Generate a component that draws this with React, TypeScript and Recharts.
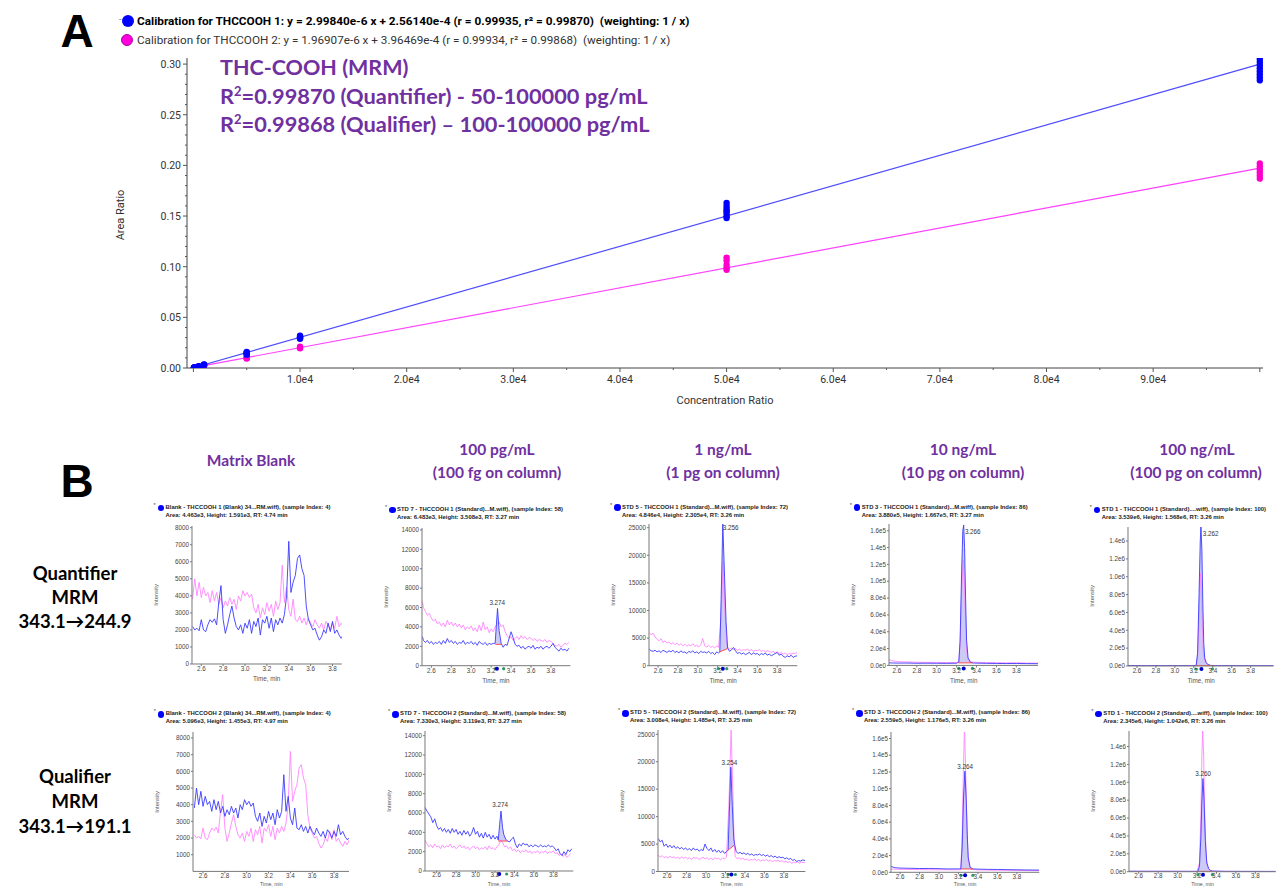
import React from "react";
import {
  ComposedChart,
  Line,
  Scatter,
  XAxis,
  YAxis,
  Area,
  ReferenceDot,
} from "recharts";

type Pt = [number, number];
type RangePt = [number, number, number];

// ---------- Panel A: calibration curves ----------
const quantLevels = [50, 100, 500, 1000, 5000, 10000, 50000, 100000];
const quantReplicates: number[][] = [
  [0.0003, 0.0004, 0.0002],
  [0.0005, 0.0004, 0.0006],
  [0.0016, 0.0017, 0.0015],
  [0.0033, 0.0036, 0.0029, 0.0031],
  [0.015, 0.0158, 0.0137, 0.0145, 0.0132],
  [0.0318, 0.031, 0.0295, 0.0302, 0.0288],
  [0.163, 0.16, 0.157, 0.153, 0.15, 0.155, 0.148],
  [0.305, 0.302, 0.299, 0.296, 0.293, 0.29, 0.287, 0.284],
];
const qualLevels = [100, 500, 1000, 5000, 10000, 50000, 100000];
const qualReplicates: number[][] = [
  [0.0004, 0.0006],
  [0.0012, 0.001],
  [0.0021, 0.0019],
  [0.0098, 0.0102, 0.0094],
  [0.021, 0.02, 0.0195],
  [0.109, 0.106, 0.102, 0.099, 0.097],
  [0.202, 0.199, 0.196, 0.193, 0.19, 0.187],
];
// regression lines (end points of y = a x + b)
const quantFit: Pt[] = [[0, 0.000256], [100000, 0.2999]];
const qualFit: Pt[] = [[0, 0.000396], [100000, 0.19731]];

const calXTicks = [
  0, 5000, 10000, 15000, 20000, 25000, 30000, 35000, 40000, 45000, 50000,
  55000, 60000, 65000, 70000, 75000, 80000, 85000, 90000, 95000, 100000,
];
const calYTicks = [
  0, 0.01, 0.02, 0.03, 0.04, 0.05, 0.06, 0.07, 0.08, 0.09, 0.1, 0.11, 0.12,
  0.13, 0.14, 0.15, 0.16, 0.17, 0.18, 0.19, 0.2, 0.21, 0.22, 0.23, 0.24, 0.25,
  0.26, 0.27, 0.28, 0.29, 0.3,
];

// ---------- Panel B: chromatograms (time in min, intensity in cps) ----------
const timeTicks = [2.6, 2.8, 3.0, 3.2, 3.4, 3.6, 3.8];
const blankTicks = [0, 1000, 2000, 3000, 4000, 5000, 6000, 7000, 8000];
const blankTicks2 = [1000, 2000, 3000, 4000, 5000, 6000, 7000, 8000];
const std7Ticks = [0, 2000, 4000, 6000, 8000, 10000, 12000, 14000];
const std5Ticks = [0, 5000, 10000, 15000, 20000, 25000];
const std3Ticks = [0, 20000, 40000, 60000, 80000, 100000, 120000, 140000, 160000];
const std1Ticks = [0, 200000, 400000, 600000, 800000, 1000000, 1200000, 1400000];

// matrix blank, quantifier trace (343.1 -> 244.9)
const blankQuant: Pt[] = [
  [2.52, 2200], [2.54, 2000], [2.56, 2100], [2.58, 1950], [2.6, 2600], [2.62, 2000],
  [2.64, 1900], [2.66, 2300], [2.68, 2600], [2.7, 2450], [2.72, 2650], [2.74, 2300],
  [2.76, 3600], [2.78, 4600], [2.8, 2600], [2.82, 1800], [2.84, 2300], [2.86, 2900],
  [2.88, 3400], [2.9, 2700], [2.92, 2200], [2.94, 2000], [2.96, 2300], [2.98, 1800],
  [3.0, 2400], [3.02, 2100], [3.04, 2600], [3.06, 1800], [3.08, 2500], [3.1, 2200],
  [3.12, 2700], [3.14, 1700], [3.16, 2600], [3.18, 2400], [3.2, 2800], [3.22, 2100],
  [3.24, 2700], [3.26, 1900], [3.28, 2600], [3.3, 2300], [3.32, 2700], [3.34, 2400],
  [3.36, 2900], [3.38, 4000], [3.4, 7200], [3.42, 4200], [3.44, 4800], [3.46, 5200],
  [3.48, 6200], [3.5, 6400], [3.52, 5600], [3.54, 5200], [3.56, 3400], [3.58, 2600],
  [3.6, 2300], [3.62, 2000], [3.64, 2100], [3.66, 1700], [3.68, 1400], [3.7, 1600],
  [3.72, 2000], [3.74, 1800], [3.76, 2400], [3.78, 1900], [3.8, 2500], [3.82, 1800],
  [3.84, 2000], [3.86, 1700], [3.88, 1500], [3.9, 1800], [3.92, 1600], [3.94, 1900],
];
// matrix blank, qualifier trace (343.1 -> 191.1)
const blankQual: Pt[] = [
  [2.52, 3800], [2.54, 5000], [2.56, 4000], [2.58, 4800], [2.6, 3900], [2.62, 4500],
  [2.64, 4000], [2.66, 4200], [2.68, 3600], [2.7, 4300], [2.72, 3700], [2.74, 4200],
  [2.76, 3500], [2.78, 3900], [2.8, 3300], [2.82, 3700], [2.84, 3400], [2.86, 3900],
  [2.88, 3500], [2.9, 3800], [2.92, 3200], [2.94, 4000], [2.96, 3700], [2.98, 4300],
  [3.0, 4000], [3.02, 4200], [3.04, 3900], [3.06, 4100], [3.08, 3300], [3.1, 3000],
  [3.12, 3500], [3.14, 2700], [3.16, 3300], [3.18, 2900], [3.2, 3600], [3.22, 3100],
  [3.24, 3500], [3.26, 2800], [3.28, 3700], [3.3, 3200], [3.32, 3600], [3.34, 5800],
  [3.36, 3600], [3.38, 4500], [3.4, 3200], [3.42, 2800], [3.44, 3800], [3.46, 2600],
  [3.48, 2500], [3.5, 2800], [3.52, 2400], [3.54, 2700], [3.56, 2300], [3.58, 2700],
  [3.6, 2400], [3.62, 2200], [3.64, 2600], [3.66, 2300], [3.68, 2100], [3.7, 2400],
  [3.72, 2000], [3.74, 2500], [3.76, 2300], [3.78, 2000], [3.8, 2400], [3.82, 2100],
  [3.84, 2800], [3.86, 2200], [3.88, 2400], [3.9, 2100], [3.92, 1900], [3.94, 2000],
];

// STD 7 (100 pg/mL)
const std7Quant: Pt[] = [
  [2.51, 3000], [2.52, 2600], [2.54, 2400], [2.56, 2600], [2.58, 2300], [2.6, 2500],
  [2.62, 2200], [2.64, 2400], [2.66, 2300], [2.68, 2500], [2.7, 2200], [2.72, 2600],
  [2.74, 2300], [2.76, 2800], [2.78, 2400], [2.8, 2600], [2.82, 2300], [2.84, 2500],
  [2.86, 2200], [2.88, 2400], [2.9, 2300], [2.92, 2600], [2.94, 2200], [2.96, 2400],
  [2.98, 2300], [3.0, 2500], [3.02, 2200], [3.04, 2400], [3.06, 2100], [3.08, 2500],
  [3.1, 2300], [3.12, 2200], [3.14, 2400], [3.16, 2100], [3.18, 2300], [3.2, 2200],
  [3.22, 2300], [3.24, 2300], [3.252, 4200], [3.264, 5900], [3.28, 3600], [3.29, 3000],
  [3.3, 2300], [3.32, 1900], [3.34, 2200], [3.36, 2100], [3.38, 2800], [3.4, 3500],
  [3.42, 2900], [3.44, 2200], [3.46, 2000], [3.48, 2100], [3.5, 1800], [3.52, 2000],
  [3.54, 1700], [3.56, 1900], [3.58, 2000], [3.6, 1800], [3.62, 2100], [3.64, 1700],
  [3.66, 1900], [3.68, 1800], [3.7, 2000], [3.72, 1700], [3.74, 1900], [3.76, 2000],
  [3.78, 1800], [3.8, 2000], [3.82, 2300], [3.84, 1900], [3.86, 1700], [3.88, 1500],
  [3.9, 1800], [3.92, 1600], [3.94, 1700], [3.96, 1500], [3.98, 1800],
];
const std7QualOverlay: Pt[] = [
  [2.51, 6600], [2.52, 6000], [2.54, 5600], [2.56, 5200], [2.58, 5400], [2.6, 4900],
  [2.62, 4600], [2.64, 4800], [2.66, 4300], [2.68, 4500], [2.7, 4100], [2.72, 4400],
  [2.74, 4000], [2.76, 4700], [2.78, 4200], [2.8, 4500], [2.82, 4100], [2.84, 4400],
  [2.86, 4000], [2.88, 4300], [2.9, 3900], [2.92, 4200], [2.94, 3700], [2.96, 4000],
  [2.98, 3800], [3.0, 4100], [3.02, 3600], [3.04, 3900], [3.06, 3500], [3.08, 4200],
  [3.1, 3600], [3.12, 4500], [3.14, 3700], [3.16, 4000], [3.18, 3400], [3.2, 3800],
  [3.22, 3500], [3.24, 4000], [3.26, 4300], [3.28, 4500], [3.3, 4000], [3.32, 4200],
  [3.34, 3500], [3.36, 3100], [3.38, 2800], [3.4, 3000], [3.42, 2600], [3.44, 2800],
  [3.46, 3000], [3.48, 2700], [3.5, 3100], [3.52, 2800], [3.54, 3000], [3.56, 2700],
  [3.58, 2900], [3.6, 2800], [3.62, 2600], [3.64, 2800], [3.66, 2500], [3.68, 2700],
  [3.7, 2600], [3.72, 2500], [3.74, 2700], [3.76, 2400], [3.78, 2600], [3.8, 2500],
  [3.82, 2300], [3.84, 2100], [3.86, 2000], [3.88, 2200], [3.9, 1900], [3.92, 2100],
  [3.94, 2300], [3.96, 2200], [3.98, 2400],
];
const std7QuantFill: RangePt[] = [
  [3.242, 2200, 2300], [3.252, 2200, 4200], [3.264, 2200, 5900], [3.28, 2200, 3600],
  [3.29, 2200, 3000], [3.3, 2200, 2300], [3.31, 2200, 2200],
];
const std7QuantBase: Pt[] = [[3.242, 2200], [3.31, 2200]];

const std7Qual: Pt[] = [
  [2.48, 6600], [2.5, 6200], [2.52, 5900], [2.54, 5600], [2.56, 5000], [2.58, 5400],
  [2.6, 4700], [2.62, 4300], [2.64, 4500], [2.66, 4100], [2.68, 4400], [2.7, 4000],
  [2.72, 4300], [2.74, 3900], [2.76, 4400], [2.78, 4000], [2.8, 4300], [2.82, 3800],
  [2.84, 4100], [2.86, 3700], [2.88, 4200], [2.9, 3800], [2.92, 4100], [2.94, 3600],
  [2.96, 3900], [2.98, 4500], [3.0, 3800], [3.02, 4100], [3.04, 3500], [3.06, 3900],
  [3.08, 3400], [3.1, 4000], [3.12, 3500], [3.14, 3800], [3.16, 3300], [3.18, 3700],
  [3.2, 3300], [3.22, 3600], [3.234, 3200], [3.248, 4800], [3.262, 6200], [3.278, 4500],
  [3.29, 3800], [3.31, 3300], [3.33, 3100], [3.35, 3000], [3.37, 3300], [3.39, 3500],
  [3.41, 2800], [3.43, 2400], [3.45, 2800], [3.47, 2600], [3.49, 2900], [3.51, 2700],
  [3.53, 2800], [3.55, 2500], [3.57, 2700], [3.59, 2500], [3.61, 2700], [3.63, 2600],
  [3.65, 2500], [3.67, 2700], [3.69, 2500], [3.71, 2600], [3.73, 2500], [3.75, 2700],
  [3.77, 2500], [3.79, 2600], [3.81, 2400], [3.83, 2100], [3.85, 2300], [3.87, 1800],
  [3.89, 1600], [3.91, 2000], [3.93, 1700], [3.95, 2200], [3.97, 2000], [3.99, 2300],
];
const std7QuantOverlay: Pt[] = [
  [2.48, 3200], [2.5, 2800], [2.52, 2500], [2.54, 2700], [2.56, 2400], [2.58, 2800],
  [2.6, 2500], [2.62, 2600], [2.64, 2300], [2.66, 2700], [2.68, 2400], [2.7, 2600],
  [2.72, 2500], [2.74, 2800], [2.76, 2400], [2.78, 2600], [2.8, 2300], [2.82, 2500],
  [2.84, 2700], [2.86, 2400], [2.88, 2600], [2.9, 2300], [2.92, 2500], [2.94, 2200],
  [2.96, 2400], [2.98, 2600], [3.0, 2300], [3.02, 2500], [3.04, 2200], [3.06, 2400],
  [3.08, 2300], [3.1, 2500], [3.12, 2200], [3.14, 2600], [3.16, 2300], [3.18, 2400],
  [3.2, 2200], [3.22, 2500], [3.24, 2700], [3.26, 3200], [3.28, 2900], [3.3, 2500],
  [3.32, 2600], [3.34, 2300], [3.36, 2500], [3.38, 2100], [3.4, 2300], [3.42, 2000],
  [3.44, 2200], [3.46, 1900], [3.48, 2100], [3.5, 2000], [3.52, 2200], [3.54, 1900],
  [3.56, 2100], [3.58, 1800], [3.6, 2000], [3.62, 1900], [3.64, 2100], [3.66, 1800],
  [3.68, 2000], [3.7, 1900], [3.72, 2100], [3.74, 1800], [3.76, 2000], [3.78, 1900],
  [3.8, 2100], [3.82, 1800], [3.84, 1900], [3.86, 1600], [3.88, 1800], [3.9, 1500],
  [3.92, 1700], [3.94, 1400], [3.96, 1600], [3.98, 1800],
];
const std7QualFill: RangePt[] = [
  [3.234, 3100, 3200], [3.248, 3100, 4800], [3.262, 3100, 6200], [3.278, 3100, 4500],
  [3.29, 3100, 3800], [3.31, 3100, 3300], [3.33, 3100, 3100],
];
const std7QualBase: Pt[] = [[3.234, 3100], [3.33, 3100]];

// STD 5 (1 ng/mL)
const std5Quant: Pt[] = [
  [2.51, 3000], [2.53, 2700], [2.55, 2600], [2.57, 2800], [2.59, 2500], [2.61, 2700],
  [2.63, 2400], [2.65, 2800], [2.67, 2600], [2.69, 2400], [2.71, 2700], [2.73, 2500],
  [2.75, 2800], [2.77, 2400], [2.79, 2600], [2.81, 2300], [2.83, 2700], [2.85, 2400],
  [2.87, 2500], [2.89, 2200], [2.91, 2600], [2.93, 2400], [2.95, 2700], [2.97, 2300],
  [2.99, 2500], [3.01, 2200], [3.03, 2600], [3.05, 2400], [3.07, 2500], [3.09, 2300],
  [3.11, 2600], [3.13, 2200], [3.15, 2400], [3.17, 2000], [3.19, 2500], [3.21, 2300],
  [3.222, 2500], [3.235, 12000], [3.252, 25650], [3.27, 16000], [3.285, 8000],
  [3.3, 3200], [3.32, 2600], [3.34, 2900], [3.36, 3300], [3.38, 2700], [3.4, 2200],
  [3.42, 2400], [3.44, 2100], [3.46, 2300], [3.48, 2000], [3.5, 2200], [3.52, 2400],
  [3.54, 2000], [3.56, 2300], [3.58, 2100], [3.6, 2200], [3.62, 1900], [3.64, 2200],
  [3.66, 2000], [3.68, 2300], [3.7, 1900], [3.72, 2100], [3.74, 1800], [3.76, 2000],
  [3.78, 2200], [3.8, 2400], [3.82, 1900], [3.84, 2100], [3.86, 1700], [3.88, 1500],
  [3.9, 1800], [3.92, 1600], [3.94, 1900], [3.96, 1500], [3.98, 1700], [4.0, 1800],
];
const std5QualOverlay: Pt[] = [
  [2.51, 6000], [2.53, 5600], [2.55, 5900], [2.57, 5200], [2.59, 4800], [2.61, 4500],
  [2.63, 4900], [2.65, 4200], [2.67, 4500], [2.69, 4100], [2.71, 4300], [2.73, 3900],
  [2.75, 4200], [2.77, 3800], [2.79, 4100], [2.81, 3700], [2.83, 4000], [2.85, 3600],
  [2.87, 3900], [2.89, 3500], [2.91, 3800], [2.93, 3600], [2.95, 4000], [2.97, 3500],
  [2.99, 3700], [3.01, 3400], [3.03, 3800], [3.05, 4900], [3.07, 3600], [3.09, 3400],
  [3.11, 3700], [3.13, 3300], [3.15, 3500], [3.17, 3200], [3.19, 3600], [3.21, 3300],
  [3.235, 9000], [3.256, 18800], [3.27, 11000], [3.29, 4500], [3.3, 3400], [3.32, 3000],
  [3.34, 3200], [3.36, 2900], [3.38, 3100], [3.4, 2800], [3.42, 3000], [3.44, 2700],
  [3.46, 2900], [3.48, 2800], [3.5, 3000], [3.52, 2700], [3.54, 2900], [3.56, 2600],
  [3.58, 2800], [3.6, 2700], [3.62, 2900], [3.64, 2600], [3.66, 2800], [3.68, 2500],
  [3.7, 2700], [3.72, 2600], [3.74, 2400], [3.76, 2600], [3.78, 2300], [3.8, 2500],
  [3.82, 2200], [3.84, 2400], [3.86, 2100], [3.88, 2300], [3.9, 2000], [3.92, 2200],
  [3.94, 2100], [3.96, 2300], [3.98, 2200], [4.0, 2400],
];
const std5QuantFill: RangePt[] = [
  [3.222, 2500, 2500], [3.235, 2600, 12000], [3.252, 2700, 25650], [3.27, 2800, 16000],
  [3.285, 3000, 8000], [3.3, 3100, 3200],
];
const std5QuantBase: Pt[] = [[3.222, 2500], [3.3, 3100]];

const std5Qual: Pt[] = [
  [2.51, 6000], [2.53, 5400], [2.55, 5700], [2.57, 4600], [2.59, 5000], [2.61, 4400],
  [2.63, 4800], [2.65, 4300], [2.67, 4700], [2.69, 4200], [2.71, 4500], [2.73, 4100],
  [2.75, 4400], [2.77, 4000], [2.79, 4300], [2.81, 3900], [2.83, 4200], [2.85, 3800],
  [2.87, 4300], [2.89, 3900], [2.91, 4100], [2.93, 3700], [2.95, 4000], [2.97, 3800],
  [2.99, 5000], [3.01, 4200], [3.03, 3800], [3.05, 4300], [3.07, 3600], [3.09, 4000],
  [3.11, 3500], [3.13, 3900], [3.15, 3400], [3.17, 3800], [3.19, 3300], [3.21, 3600],
  [3.227, 3900], [3.24, 11000], [3.255, 19000], [3.27, 12000], [3.285, 6000],
  [3.295, 4900], [3.31, 3600], [3.33, 3300], [3.35, 3500], [3.37, 3200], [3.39, 3400],
  [3.41, 3100], [3.43, 3300], [3.45, 3000], [3.47, 3200], [3.49, 2900], [3.51, 3100],
  [3.53, 3000], [3.55, 3200], [3.57, 2900], [3.59, 3100], [3.61, 2800], [3.63, 3000],
  [3.65, 2700], [3.67, 2900], [3.69, 2600], [3.71, 2800], [3.73, 2500], [3.75, 2700],
  [3.77, 2500], [3.79, 2600], [3.81, 2300], [3.83, 2500], [3.85, 2200], [3.87, 2400],
  [3.89, 2000], [3.91, 2200], [3.93, 1800], [3.95, 2000], [3.97, 1900], [3.99, 2100],
  [4.02, 2000],
];
const std5QuantOverlay: Pt[] = [
  [2.51, 3000], [2.53, 2600], [2.55, 2900], [2.57, 2500], [2.59, 2700], [2.61, 2400],
  [2.63, 2800], [2.65, 2500], [2.67, 2700], [2.69, 2400], [2.71, 2600], [2.73, 2300],
  [2.75, 2700], [2.77, 2400], [2.79, 2600], [2.81, 2300], [2.83, 2500], [2.85, 2200],
  [2.87, 2600], [2.89, 2400], [2.91, 2500], [2.93, 2200], [2.95, 2400], [2.97, 2600],
  [2.99, 2300], [3.01, 2500], [3.03, 2200], [3.05, 2400], [3.07, 2100], [3.09, 2500],
  [3.11, 2300], [3.13, 2400], [3.15, 2100], [3.17, 2500], [3.19, 2300], [3.21, 2600],
  [3.235, 12000], [3.258, 25900], [3.275, 15000], [3.29, 5000], [3.3, 2800],
  [3.32, 2300], [3.34, 2500], [3.36, 2200], [3.38, 2400], [3.4, 2100], [3.42, 2300],
  [3.44, 2000], [3.46, 2200], [3.48, 2100], [3.5, 2300], [3.52, 2000], [3.54, 2200],
  [3.56, 1900], [3.58, 2100], [3.6, 2000], [3.62, 2200], [3.64, 1900], [3.66, 2100],
  [3.68, 1800], [3.7, 2000], [3.72, 1900], [3.74, 2100], [3.76, 1800], [3.78, 2000],
  [3.8, 1700], [3.82, 1900], [3.84, 1600], [3.86, 1800], [3.88, 1500], [3.9, 1700],
  [3.92, 1600], [3.94, 1800], [3.96, 1500], [3.98, 1700], [4.02, 1600],
];
const std5QualFill: RangePt[] = [
  [3.227, 3900, 3900], [3.24, 4100, 11000], [3.255, 4300, 19000], [3.27, 4500, 12000],
  [3.285, 4700, 6000], [3.292, 4830, 5000],
];
const std5QualBase: Pt[] = [[3.227, 3900], [3.292, 4830]];

// STD 3 (10 ng/mL)
const std3Quant: Pt[] = [
  [2.52, 3000], [2.6, 2700], [2.7, 2800], [2.8, 2500], [2.9, 2600], [3.0, 2500],
  [3.1, 2400], [3.2, 2600], [3.222, 4000], [3.235, 30000], [3.25, 110000],
  [3.262, 160000], [3.271, 166700], [3.28, 140000], [3.29, 80000], [3.3, 30000],
  [3.315, 9000], [3.34, 3500], [3.37, 2800], [3.5, 2400], [3.6, 2300], [3.7, 2200],
  [3.8, 2300], [3.9, 2100], [4.02, 2000],
];
const std3QualOverlay: Pt[] = [
  [2.52, 7000], [2.55, 5500], [2.6, 4500], [2.7, 4000], [2.8, 3700], [2.9, 3500],
  [3.0, 3600], [3.1, 3300], [3.2, 3400], [3.222, 4000], [3.235, 25000], [3.25, 85000],
  [3.266, 125000], [3.278, 100000], [3.29, 50000], [3.3, 18000], [3.315, 6000],
  [3.34, 4000], [3.4, 3600], [3.5, 3400], [3.6, 3200], [3.7, 3000], [3.8, 3100],
  [3.9, 2800], [4.02, 2700],
];
const std3QuantFill: RangePt[] = [
  [3.218, 3000, 3000], [3.222, 3000, 4000], [3.235, 3000, 30000], [3.25, 3000, 110000],
  [3.262, 3000, 160000], [3.271, 3000, 166700], [3.28, 3000, 140000], [3.29, 3000, 80000],
  [3.3, 3000, 30000], [3.315, 3000, 9000], [3.34, 3000, 3500], [3.36, 3000, 3000],
];
const std3QuantBase: Pt[] = [[3.218, 3000], [3.36, 3000]];

const std3Qual: Pt[] = [
  [2.507, 7000], [2.55, 5500], [2.6, 5000], [2.7, 4800], [2.8, 4500], [2.9, 4600],
  [3.0, 4300], [3.1, 4000], [3.2, 4100], [3.224, 4000], [3.238, 30000], [3.252, 90000],
  [3.266, 121000], [3.28, 85000], [3.29, 45000], [3.3, 18000], [3.32, 6000],
  [3.348, 4000], [3.4, 3800], [3.5, 3500], [3.6, 3400], [3.7, 3200], [3.8, 3000],
  [3.9, 2800], [4.03, 2600],
];
const std3QuantOverlay: Pt[] = [
  [2.507, 4000], [2.6, 3500], [2.8, 3200], [3.0, 3000], [3.2, 3000], [3.224, 3200],
  [3.238, 45000], [3.25, 120000], [3.262, 175000], [3.275, 115000], [3.288, 50000],
  [3.3, 14000], [3.32, 4000], [3.4, 2800], [3.6, 2500], [3.8, 2200], [4.03, 2000],
];
const std3QualFill: RangePt[] = [
  [3.224, 4000, 4000], [3.238, 4000, 30000], [3.252, 4000, 90000], [3.266, 4000, 121000],
  [3.28, 4000, 85000], [3.29, 4000, 45000], [3.3, 4000, 18000], [3.32, 4000, 6000],
  [3.348, 4000, 4000],
];
const std3QualBase: Pt[] = [[3.224, 4000], [3.348, 4000]];

// STD 1 (100 ng/mL)
const std1Quant: Pt[] = [
  [2.505, 4000], [2.7, 3500], [3.0, 3500], [3.2, 3500], [3.225, 8000], [3.24, 150000],
  [3.255, 800000], [3.268, 1400000], [3.275, 1568000], [3.285, 1300000],
  [3.295, 700000], [3.305, 250000], [3.315, 90000], [3.33, 40000], [3.35, 15000],
  [3.38, 6000], [3.45, 4000], [3.7, 3500], [4.04, 3000],
];
const std1QualOverlay: Pt[] = [
  [2.505, 6000], [2.8, 4000], [3.2, 3500], [3.225, 6000], [3.24, 100000],
  [3.255, 550000], [3.27, 1040000], [3.28, 850000], [3.29, 450000], [3.3, 150000],
  [3.315, 60000], [3.34, 20000], [3.38, 5000], [3.5, 3000], [4.04, 2500],
];
const std1QuantFill: RangePt[] = [
  [3.22, 4000, 4000], [3.225, 4000, 8000], [3.24, 4000, 150000], [3.255, 4000, 800000],
  [3.268, 4000, 1400000], [3.275, 4000, 1568000], [3.285, 4000, 1300000],
  [3.295, 4000, 700000], [3.305, 4000, 250000], [3.315, 4000, 90000],
  [3.33, 4000, 40000], [3.35, 4000, 15000], [3.38, 4000, 6000], [3.4, 4000, 4000],
];
const std1QuantBase: Pt[] = [[3.22, 4000], [3.4, 4000]];

const std1Qual: Pt[] = [
  [2.5, 5000], [3.0, 4000], [3.2, 4000], [3.21, 5000], [3.225, 60000], [3.24, 400000],
  [3.25, 800000], [3.261, 1042000], [3.272, 800000], [3.285, 350000], [3.3, 100000],
  [3.32, 35000], [3.34, 12000], [3.358, 6000], [3.5, 4000], [4.01, 3000],
];
const std1QuantOverlay: Pt[] = [
  [2.5, 4000], [3.2, 3500], [3.225, 100000], [3.24, 650000], [3.25, 1300000],
  [3.258, 1600000], [3.268, 1300000], [3.28, 600000], [3.295, 150000], [3.31, 40000],
  [3.34, 8000], [3.5, 3000], [4.01, 2500],
];
const std1QualFill: RangePt[] = [
  [3.21, 4000, 5000], [3.225, 4000, 60000], [3.24, 4000, 400000], [3.25, 4000, 800000],
  [3.261, 4000, 1042000], [3.272, 4000, 800000], [3.285, 4000, 350000],
  [3.3, 4000, 100000], [3.32, 4000, 35000], [3.34, 4000, 12000], [3.358, 4000, 6000],
];
const std1QualBase: Pt[] = [[3.21, 4000], [3.358, 4000]];

const BLUE = "#3b3bff";
const PINK = "#ff86ff";
const PURPLE = "#7030a0";

const toXY = (arr: Pt[]) => arr.map(([x, y]) => ({ x, y }));
const toTV = (arr: Pt[]) => arr.map(([t, v]) => ({ t, v }));
const toRange = (arr: RangePt[]) => arr.map(([t, lo, hi]) => ({ t, r: [lo, hi] }));

const sci = (v: number) => {
  if (v === 0) return "0.0e0";
  const e = Math.floor(Math.log10(v) + 1e-9);
  return `${(v / Math.pow(10, e)).toFixed(1)}e${e}`;
};

function T({
  x,
  y,
  children,
  size = 12,
  weight = 400,
  color = "#000",
  anchor = "start",
  rotate = 0,
  family,
}: any) {
  const tx = anchor === "middle" ? "-50%" : anchor === "end" ? "-100%" : "0";
  return (
    <div
      style={{
        position: "absolute",
        left: x,
        top: y,
        transform: `translate(${tx}, -50%) rotate(${rotate}deg)`,
        fontSize: size,
        fontWeight: weight,
        color,
        whiteSpace: "nowrap",
        lineHeight: 1,
        fontFamily: family,
      }}
    >
      {children}
    </div>
  );
}

function CalXTick({ x, y, payload }: any) {
  const v = payload.value;
  const major = v % 10000 === 0;
  return (
    <g>
      <line x1={x} x2={x} y1={y} y2={y + (major ? 4 : 2)} stroke="#555" />
      {major && v > 0 && v < 100000 && (
        <text x={x} y={y + 15} textAnchor="middle" fontSize={10.5} fill="#333" fontFamily="Roboto">
          {(v / 10000).toFixed(1)}e4
        </text>
      )}
    </g>
  );
}

function CalYTick({ x, y, payload }: any) {
  const v = payload.value;
  const major = Math.round(v * 100) % 5 === 0;
  return (
    <g>
      <line x1={x - (major ? 4 : 2)} x2={x} y1={y} y2={y} stroke="#555" />
      {major && (
        <text x={x - 6} y={y + 4} textAnchor="end" fontSize={10.5} fill="#333" fontFamily="Roboto">
          {v.toFixed(2)}
        </text>
      )}
    </g>
  );
}

const dot = (fill: string) => (p: any) => <circle cx={p.cx} cy={p.cy} r={3.2} fill={fill} />;

function CalibrationPanel() {
  const quantPts = quantLevels.flatMap((x, i) => quantReplicates[i].map((y) => ({ x, y })));
  const qualPts = qualLevels.flatMap((x, i) => qualReplicates[i].map((y) => ({ x, y })));
  return (
    <div style={{ position: "absolute", left: 0, top: 0 }}>
      <ComposedChart width={1276} height={420} margin={{ top: 58, right: 13, bottom: 0, left: 0 }}>
        <XAxis
          type="number"
          dataKey="x"
          domain={[-600, 100300]}
          ticks={calXTicks}
          interval={0}
          tick={<CalXTick />}
          tickLine={false}
          tickSize={0}
          tickMargin={0}
          height={52}
          stroke="#444"
          allowDataOverflow
        />
        <YAxis
          type="number"
          dataKey="y"
          domain={[0, 0.306]}
          ticks={calYTicks}
          interval={0}
          tick={<CalYTick />}
          tickLine={false}
          tickSize={0}
          tickMargin={0}
          width={187}
          stroke="#444"
          allowDataOverflow
        />
        <Line data={toXY(qualFit)} dataKey="y" stroke="#ff40ff" strokeWidth={1.2} dot={false} isAnimationActive={false} />
        <Line data={toXY(quantFit)} dataKey="y" stroke="#4d4dff" strokeWidth={1.2} dot={false} isAnimationActive={false} />
        <Scatter data={qualPts} dataKey="y" fill="#ff00cc" shape={dot("#ff00cc")} isAnimationActive={false} />
        <Scatter data={quantPts} dataKey="y" fill="#0000ff" shape={dot("#0000ff")} isAnimationActive={false} />
      </ComposedChart>
    </div>
  );
}

interface ChromProps {
  left: number;
  top: number;
  right: number;
  bottom: number;
  xDomain: [number, number];
  yMax: number;
  yTicks: number[];
  sciTicks?: boolean;
  blue: Pt[];
  pink: Pt[];
  fill?: RangePt[];
  base?: Pt[];
  peakLabel?: string;
  labelAt?: Pt;
  marks?: number[];
  title: string;
  info: string;
  titleX: number;
  titleY: number;
  lowRow?: boolean;
}

function Chromatogram(p: ChromProps) {
  const YW = 34;
  const XH = 22;
  const w = p.right - p.left;
  const h = p.bottom - p.top;
  const markY = -(p.yMax * 3) / h;
  const fontFam = "Liberation Sans";
  return (
    <>
      <div style={{ position: "absolute", left: p.left - YW, top: p.top - 4 }}>
        <ComposedChart width={w + YW + 4} height={h + XH + 4} margin={{ top: 4, right: 4, bottom: 0, left: 0 }}>
          <XAxis
            type="number"
            dataKey="t"
            domain={p.xDomain}
            ticks={timeTicks}
            interval={0}
            tickFormatter={(v: number) => v.toFixed(1)}
            tick={{ fontSize: 6.3, fill: "#444", fontFamily: fontFam }}
            tickSize={2}
            tickMargin={p.lowRow ? 0 : 1}
            height={XH}
            stroke="#777"
            allowDataOverflow
          />
          <YAxis
            type="number"
            domain={[0, p.yMax]}
            ticks={p.yTicks}
            interval={0}
            tickFormatter={(v: number) => (p.sciTicks ? sci(v) : String(v))}
            tick={{ fontSize: 6.3, fill: "#444", fontFamily: fontFam }}
            tickSize={2}
            tickMargin={1}
            width={YW}
            stroke="#777"
            allowDataOverflow
          />
          {p.fill && (
            <Area
              data={toRange(p.fill)}
              dataKey="r"
              type="linear"
              stroke="none"
              fill="#b9b9f3"
              fillOpacity={0.75}
              isAnimationActive={false}
            />
          )}
          <Line data={toTV(p.pink)} dataKey="v" type="linear" stroke={PINK} strokeWidth={0.9} dot={false} isAnimationActive={false} />
          <Line data={toTV(p.blue)} dataKey="v" type="linear" stroke={BLUE} strokeWidth={0.9} dot={false} isAnimationActive={false} />
          {p.base && (
            <Line data={toTV(p.base)} dataKey="v" type="linear" stroke="#ff3b3b" strokeWidth={0.9} dot={false} isAnimationActive={false} />
          )}
          {p.marks &&
            p.marks.map((m, i) => (
              <ReferenceDot
                key={i}
                x={m}
                y={markY}
                r={i === 1 ? 2 : 1.6}
                fill={i === 1 ? "#0000c8" : "#2e9a6a"}
                stroke="none"
                ifOverflow="visible"
              />
            ))}
          {p.peakLabel && p.labelAt && (
            <ReferenceDot
              x={p.labelAt[0]}
              y={p.labelAt[1]}
              r={0}
              ifOverflow="visible"
              label={{ value: p.peakLabel, position: "center", fontSize: 6.3, fill: "#333", fontFamily: fontFam }}
            />
          )}
        </ComposedChart>
      </div>
      <T x={p.titleX - 12} y={p.titleY - 2} size={5.5} family={fontFam} color="#444">*</T>
      <div
        style={{
          position: "absolute",
          left: p.titleX - 8,
          top: p.titleY - 3.3,
          width: 6.5,
          height: 6.5,
          borderRadius: "50%",
          background: "#0000ff",
        }}
      />
      <T x={p.titleX} y={p.titleY} size={5.9} weight={700} family={fontFam} color="#222">
        {p.title}
      </T>
      <T x={p.titleX} y={p.titleY + 7.8} size={5.9} weight={700} family={fontFam} color="#222">
        {p.info}
      </T>
      <T x={p.left - 35} y={(p.top + p.bottom) / 2} size={5.8} anchor="middle" rotate={-90} family={fontFam} color="#555">
        Intensity
      </T>
      <T
        x={(p.left + p.right) / 2}
        y={p.lowRow ? 885 : p.bottom + 15}
        size={p.lowRow ? 5.2 : 6.3}
        anchor="middle"
        family={fontFam}
        color="#555"
      >
        Time, min
      </T>
    </>
  );
}

export default function App() {
  const calib = "Lato";
  return (
    <div
      style={{
        position: "absolute",
        left: 0,
        top: 0,
        width: 1276,
        height: 888,
        background: "#fff",
        overflow: "hidden",
        fontFamily: "Roboto",
      }}
    >
      <CalibrationPanel />

      <T x={77} y={31} size={46} weight={700} family="Liberation Sans" anchor="middle">A</T>
      <T x={77} y={481} size={46} weight={700} family="Liberation Sans" anchor="middle">B</T>

      {/* legend */}
      <T x={119} y={19} size={9} color="#777">-</T>
      <div style={{ position: "absolute", left: 122, top: 15, width: 12, height: 12, borderRadius: "50%", background: "#0000ff" }} />
      <div style={{ position: "absolute", left: 121, top: 34, width: 12, height: 12, borderRadius: "50%", background: "#ff00dd", border: "1px solid #a0a", boxSizing: "border-box" }} />
      <T x={137} y={22} size={11.8} weight={700}>
        Calibration for THCCOOH 1: y = 2.99840e-6 x + 2.56140e-4 (r = 0.99935, r² = 0.99870)&nbsp;&nbsp;(weighting: 1 / x)
      </T>
      <T x={137} y={41} size={11.7} color="#333">
        Calibration for THCCOOH 2: y = 1.96907e-6 x + 3.96469e-4 (r = 0.99934, r² = 0.99868)&nbsp;&nbsp;(weighting: 1 / x)
      </T>

      {/* annotation */}
      <T x={220} y={68} size={21.5} weight={700} color={PURPLE} family={calib}>THC-COOH (MRM)</T>
      <T x={220} y={96} size={21.8} weight={700} color={PURPLE} family={calib}>
        R<sup style={{ fontSize: 13 }}>2</sup>=0.99870 (Quantifier) - 50-100000 pg/mL
      </T>
      <T x={220} y={124} size={21.8} weight={700} color={PURPLE} family={calib}>
        R<sup style={{ fontSize: 13 }}>2</sup>=0.99868 (Qualifier) – 100-100000 pg/mL
      </T>

      <T x={120} y={215} size={11} anchor="middle" rotate={-90} color="#333">Area Ratio</T>
      <T x={725} y={400} size={11} anchor="middle" color="#333">Concentration Ratio</T>

      {/* column headers */}
      <T x={251} y={461} size={15.5} weight={700} color={PURPLE} family={calib} anchor="middle">Matrix Blank</T>
      <T x={497} y={450} size={15.5} weight={700} color={PURPLE} family={calib} anchor="middle">100 pg/mL</T>
      <T x={497} y={473} size={15.5} weight={700} color={PURPLE} family={calib} anchor="middle">(100 fg on column)</T>
      <T x={723} y={450} size={15.5} weight={700} color={PURPLE} family={calib} anchor="middle">1 ng/mL</T>
      <T x={723} y={473} size={15.5} weight={700} color={PURPLE} family={calib} anchor="middle">(1 pg on column)</T>
      <T x={963} y={450} size={15.5} weight={700} color={PURPLE} family={calib} anchor="middle">10 ng/mL</T>
      <T x={963} y={473} size={15.5} weight={700} color={PURPLE} family={calib} anchor="middle">(10 pg on column)</T>
      <T x={1197} y={450} size={15.5} weight={700} color={PURPLE} family={calib} anchor="middle">100 ng/mL</T>
      <T x={1196} y={473} size={15.5} weight={700} color={PURPLE} family={calib} anchor="middle">(100 pg on column)</T>

      {/* row labels */}
      <T x={75} y={573} size={18.5} weight={700} family={calib} anchor="middle">Quantifier</T>
      <T x={75} y={597} size={18.5} weight={700} family={calib} anchor="middle">MRM</T>
      <T x={75} y={621} size={18.5} weight={700} family={calib} anchor="middle">343.1→244.9</T>
      <T x={75} y={776} size={18.5} weight={700} family={calib} anchor="middle">Qualifier</T>
      <T x={75} y={801} size={18.5} weight={700} family={calib} anchor="middle">MRM</T>
      <T x={75} y={826} size={18.5} weight={700} family={calib} anchor="middle">343.1→191.1</T>

      {/* quantifier row */}
      <Chromatogram
        left={191.7} right={341.5} top={526} bottom={664}
        xDomain={[2.515, 3.885]} yMax={8100} yTicks={blankTicks}
        blue={blankQuant} pink={blankQual}
        title="Blank - THCCOOH 1 (Blank) 34...RM.wiff), (sample Index: 4)"
        info="Area: 4.463e3, Height: 1.591e3, RT: 4.74 min"
        titleX={165.5} titleY={508}
      />
      <Chromatogram
        left={421.7} right={570} top={528} bottom={665.7}
        xDomain={[2.506, 3.994]} yMax={14200} yTicks={std7Ticks}
        blue={std7Quant} pink={std7QualOverlay} fill={std7QuantFill} base={std7QuantBase}
        peakLabel="3.274" labelAt={[3.261, 6500]} marks={[3.242, 3.258, 3.325]}
        title="STD 7 - THCCOOH 1 (Standard)...M.wiff), (sample Index: 58)"
        info="Area: 6.483e3, Height: 3.508e3, RT: 3.27 min"
        titleX={397} titleY={510}
      />
      <Chromatogram
        left={649} right={797.3} top={524} bottom={665.7}
        xDomain={[2.509, 4.002]} yMax={25670} yTicks={std5Ticks}
        blue={std5Quant} pink={std5QualOverlay} fill={std5QuantFill} base={std5QuantBase}
        peakLabel="3.256" labelAt={[3.331, 25000]} marks={[3.208, 3.252, 3.292]}
        title="STD 5 - THCCOOH 1 (Standard)...M.wiff), (sample Index: 72)"
        info="Area: 4.846e4, Height: 2.305e4, RT: 3.26 min"
        titleX={622} titleY={507.7}
      />
      <Chromatogram
        left={889.3} right={1038.3} top={524.3} bottom={665.7}
        xDomain={[2.52, 4.018]} yMax={168000} yTicks={std3Ticks} sciTicks
        blue={std3Quant} pink={std3QualOverlay} fill={std3QuantFill} base={std3QuantBase}
        peakLabel="3.266" labelAt={[3.362, 158800]} marks={[3.221, 3.271, 3.359]}
        title="STD 3 - THCCOOH 1 (Standard)...M.wiff), (sample Index: 86)"
        info="Area: 3.880e5, Height: 1.667e5, RT: 3.27 min"
        titleX={861.7} titleY={507.7}
      />
      <Chromatogram
        left={1128.3} right={1274} top={526.7} bottom={665.7}
        xDomain={[2.505, 4.043]} yMax={1557000} yTicks={std1Ticks} sciTicks
        blue={std1Quant} pink={std1QualOverlay} fill={std1QuantFill} base={std1QuantBase}
        peakLabel="3.262" labelAt={[3.378, 1486000]} marks={[3.22, 3.28, 3.396]}
        title="STD 1 - THCCOOH 1 (Standard)....wiff), (sample Index: 100)"
        info="Area: 3.539e6, Height: 1.568e6, RT: 3.26 min"
        titleX={1101.7} titleY={510}
      />

      {/* qualifier row */}
      <Chromatogram
        left={193.3} right={349.3} top={732.3} bottom={871.7}
        xDomain={[2.508, 3.937]} yMax={8360} yTicks={blankTicks2}
        blue={blankQual} pink={blankQuant} lowRow
        title="Blank - THCCOOH 2 (Blank) 34...RM.wiff), (sample Index: 4)"
        info="Area: 5.096e3, Height: 1.455e3, RT: 4.97 min"
        titleX={165.7} titleY={714.3}
      />
      <Chromatogram
        left={425} right={573.3} top={731} bottom={871}
        xDomain={[2.48, 4.006]} yMax={14486} yTicks={std7Ticks}
        blue={std7Qual} pink={std7QuantOverlay} fill={std7QualFill} base={std7QualBase}
        peakLabel="3.274" labelAt={[3.252, 6830]} marks={[3.234, 3.244, 3.32]} lowRow
        title="STD 7 - THCCOOH 2 (Standard)...M.wiff), (sample Index: 58)"
        info="Area: 7.330e3, Height: 3.119e3, RT: 3.27 min"
        titleX={400} titleY={714.3}
      />
      <Chromatogram
        left={657.7} right={805} top={730} bottom={871.5}
        xDomain={[2.507, 4.02]} yMax={25780} yTicks={std5Ticks}
        blue={std5Qual} pink={std5QuantOverlay} fill={std5QualFill} base={std5QualBase}
        peakLabel="3.254" labelAt={[3.241, 19750]} marks={[3.227, 3.261, 3.302]} lowRow
        title="STD 5 - THCCOOH 2 (Standard)...M.wiff), (sample Index: 72)"
        info="Area: 3.008e4, Height: 1.485e4, RT: 3.25 min"
        titleX={630} titleY={713.3}
      />
      <Chromatogram
        left={891} right={1039.3} top={731.7} bottom={872}
        xDomain={[2.507, 4.03]} yMax={167800} yTicks={std3Ticks} sciTicks lowRow
        blue={std3Qual} pink={std3QuantOverlay} fill={std3QualFill} base={std3QualBase}
        peakLabel="3.264" labelAt={[3.268, 126300]} marks={[3.224, 3.268, 3.348]}
        title="STD 3 - THCCOOH 2 (Standard)...M.wiff), (sample Index: 86)"
        info="Area: 2.559e5, Height: 1.176e5, RT: 3.26 min"
        titleX={864} titleY={713.3}
      />
      <Chromatogram
        left={1129.3} right={1276} top={731} bottom={871.7}
        xDomain={[2.5, 4.009]} yMax={1574000} yTicks={std1Ticks} sciTicks lowRow
        blue={std1Qual} pink={std1QuantOverlay} fill={std1QualFill} base={std1QualBase}
        peakLabel="3.260" labelAt={[3.263, 1096000]} marks={[3.21, 3.261, 3.358]}
        title="STD 1 - THCCOOH 2 (Standard)....wiff), (sample Index: 100)"
        info="Area: 2.345e6, Height: 1.042e6, RT: 3.26 min"
        titleX={1103.3} titleY={714}
      />
    </div>
  );
}
